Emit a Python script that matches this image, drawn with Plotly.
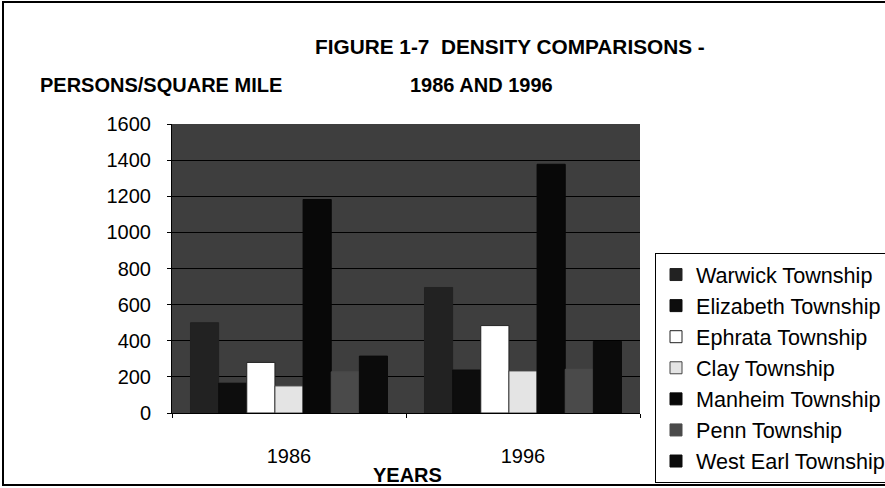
import plotly.graph_objects as go

years = ["1986", "1996"]
townships = ["Warwick Township", "Elizabeth Township", "Ephrata Township", "Clay Township",
             "Manheim Township", "Penn Township", "West Earl Township"]
warwick = [500, 695]
elizabeth = [165, 238]
ephrata = [280, 484]
clay = [150, 233]
manheim = [1182, 1377]
penn = [228, 242]
west_earl = [315, 396]
series = [warwick, elizabeth, ephrata, clay, manheim, penn, west_earl]
colors = ["#222222", "#0d0d0d", "#ffffff", "#e4e4e4", "#080808", "#4a4a4a", "#0b0b0b"]
line_colors = ["#222222", "#0d0d0d", "#222222", "#444444", "#080808", "#4a4a4a", "#0b0b0b"]
y_ticks = [0, 200, 400, 600, 800, 1000, 1200, 1400, 1600]

W, H = 885, 488
L, R, T, B = 172, 640, 124, 413


def px(x):
    return (x - L) / (R - L)


def py(y):
    return (B - y) / (B - T)


FONT = "Liberation Sans, Arial, sans-serif"
fig = go.Figure()
for i, (name, vals) in enumerate(zip(townships, series)):
    fig.add_trace(go.Bar(
        x=years, y=vals, name=name,
        marker=dict(color=colors[i], line=dict(color=line_colors[i], width=1)),
    ))

fig.update_layout(
    width=W, height=H,
    margin=dict(l=L, r=W - R, t=T, b=H - B, autoexpand=False),
    paper_bgcolor="white",
    plot_bgcolor="#3e3e3e",
    barmode="group", bargap=0.158, bargroupgap=0,
    font=dict(family=FONT, color="black", size=20),
    showlegend=True,
    legend=dict(
        xref="container", yref="container",
        x=655 / W, y=1 - 253 / H, xanchor="left", yanchor="top",
        bordercolor="black", borderwidth=1, bgcolor="white",
        font=dict(size=21.6, family=FONT, color="black"),
        tracegroupgap=0, itemwidth=30,
    ),
    xaxis=dict(
        type="category", showline=True, linecolor="black", linewidth=1,
        ticks="outside", tickson="boundaries", ticklen=4, tickcolor="black",
        showgrid=False, ticklabelstandoff=25,
        tickfont=dict(size=20),
    ),
    yaxis=dict(
        range=[0, 1600], tickvals=y_ticks, showline=True, linecolor="black", linewidth=1,
        ticks="outside", ticklen=4, tickcolor="black",
        showgrid=True, gridcolor="black", gridwidth=1, zeroline=False,
        ticklabelstandoff=12, tickfont=dict(size=20),
    ),
    annotations=[
        dict(text="<b>FIGURE 1-7  DENSITY COMPARISONS -</b>", x=px(313), y=py(46),
             xref="paper", yref="paper", xanchor="left", yanchor="middle",
             showarrow=False, font=dict(size=20.8)),
        dict(text="<b>PERSONS/SQUARE MILE</b>", x=px(38), y=py(85),
             xref="paper", yref="paper", xanchor="left", yanchor="middle",
             showarrow=False, font=dict(size=20)),
        dict(text="<b>1986 AND 1996</b>", x=px(408), y=py(85),
             xref="paper", yref="paper", xanchor="left", yanchor="middle",
             showarrow=False, font=dict(size=20)),
        dict(text="<b>YEARS</b>", x=px(407), y=py(475),
             xref="paper", yref="paper", xanchor="center", yanchor="middle",
             showarrow=False, font=dict(size=20)),
    ],
    shapes=[
        dict(type="rect", xref="paper", yref="paper", x0=px(3), x1=px(895), y0=py(2), y1=py(485),
             line=dict(color="black", width=2), fillcolor="rgba(0,0,0,0)", layer="below"),
    ],
)

fig.write_html("out.html")
